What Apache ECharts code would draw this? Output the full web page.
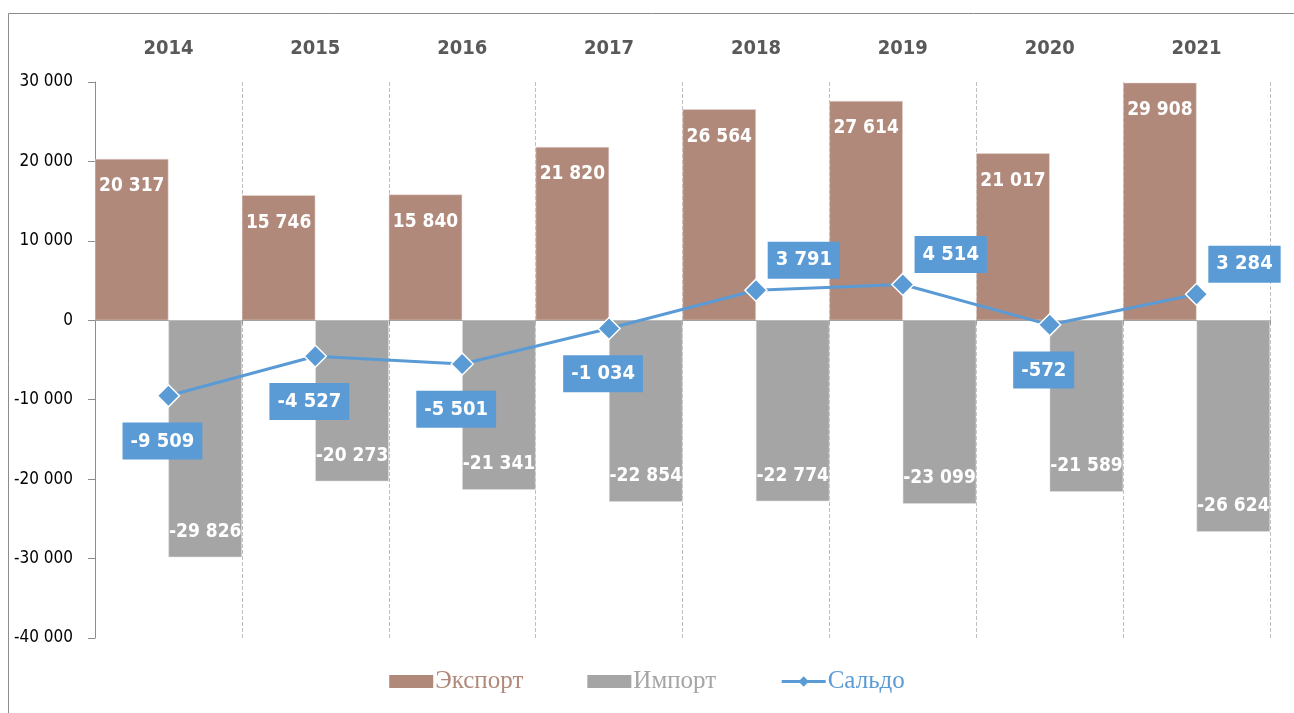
<!DOCTYPE html>
<html>
<head>
<meta charset="utf-8">
<script src="https://cdn.jsdelivr.net/npm/echarts@6/dist/echarts.min.js"></script>
<style>
  html, body { margin: 0; padding: 0; background: #fff; }
  #chart { width: 1294px; height: 713px; }
</style>
</head>
<body>
<div id="chart"></div>
<script>
// data
const years = ['2014', '2015', '2016', '2017', '2018', '2019', '2020', '2021']
const exportVals = [20317, 15746, 15840, 21820, 26564, 27614, 21017, 29908]
const importVals = [-29826, -20273, -21341, -22854, -22774, -23099, -21589, -26624]
const saldoVals = [-9509, -4527, -5501, -1034, 3791, 4514, -572, 3284]

const NARROW = '"Liberation Sans Narrow", "DejaVu Sans Condensed", sans-serif'
const fmt = v => String(v).replace(/\B(?=(\d{3})+(?!\d))/g, ' ')

const chart = echarts.init(document.getElementById('chart'))

chart.setOption({
  backgroundColor: '#FFFFFF',
  animation: false,
  graphic: [{
    type: 'rect',
    shape: { x: 8.5, y: 13.5, width: 1400, height: 800 },
    style: { fill: 'none', stroke: '#8c8c8c', lineWidth: 1 },
    silent: true
  }],
  grid: {
    left: 95,
    right: 24,
    top: 82,
    bottom: 75
  },
  legend: {
    top: 664,
    left: 'center',
    itemWidth: 44,
    itemHeight: 13,
    itemGap: 64,
    itemStyle: { borderWidth: 0 },
    textStyle: { fontFamily: '"Liberation Serif", "Times New Roman", serif', fontSize: 25, padding: [0, 0, 0, -3] },
    data: [
      { name: 'Экспорт', icon: 'rect', textStyle: { color: '#B0897B' } },
      { name: 'Импорт', icon: 'rect', textStyle: { color: '#A5A5A5' } },
      { name: 'Сальдо', textStyle: { color: '#5B9BD5' }, lineStyle: { width: 3 } }
    ]
  },
  xAxis: [
    {
      type: 'category',
      position: 'top',
      data: years,
      axisLine: { show: false, onZero: false },
      axisTick: { show: false },
      axisLabel: {
        margin: 23,
        color: '#595959',
        fontFamily: NARROW,
        fontWeight: 'bold',
        fontSize: 20
      },
      splitLine: {
        show: true,
        lineStyle: { color: '#BFBFBF', type: 'dashed', width: 1 }
      }
    },
    {
      // zero line
      type: 'category',
      position: 'bottom',
      data: years,
      axisLine: { show: true, onZero: true, lineStyle: { color: '#8c8c8c', width: 1 } },
      axisTick: { show: true, length: 4, lineStyle: { color: '#8c8c8c' } },
      axisLabel: { show: false },
      splitLine: { show: false }
    }
  ],
  yAxis: {
    type: 'value',
    min: -40000,
    max: 30000,
    interval: 10000,
    axisLine: { show: true, lineStyle: { color: '#8c8c8c' } },
    axisTick: { show: true, length: 7, lineStyle: { color: '#8c8c8c' } },
    splitLine: { show: false },
    axisLabel: {
      margin: 22,
      color: '#000000',
      fontFamily: NARROW,
      fontSize: 17,
      formatter: fmt
    }
  },
  series: [
    {
      name: 'Экспорт',
      type: 'bar',
      xAxisIndex: 0,
      barGap: '0%',
      barCategoryGap: '0%',
      data: exportVals,
      itemStyle: { color: '#B0897B', borderColor: '#E8DCD8', borderWidth: 0.5 },
      label: {
        show: true,
        position: 'insideTop',
        distance: 18,
        color: '#FFFFFF',
        fontFamily: NARROW,
        fontWeight: 'bold',
        fontSize: 19,
        formatter: p => fmt(p.value)
      }
    },
    {
      name: 'Импорт',
      type: 'bar',
      xAxisIndex: 0,
      barGap: '0%',
      barCategoryGap: '0%',
      data: importVals,
      itemStyle: { color: '#A5A5A5', borderColor: '#E0E0E0', borderWidth: 0.5 },
      label: {
        show: true,
        position: 'insideBottom',
        distance: 16,
        color: '#FFFFFF',
        fontFamily: NARROW,
        fontWeight: 'bold',
        fontSize: 19,
        formatter: p => fmt(p.value)
      }
    },
    {
      name: 'Сальдо',
      type: 'line',
      xAxisIndex: 0,
      z: 5,
      symbol: 'diamond',
      symbolSize: 22,
      lineStyle: { color: '#5B9BD5', width: 3 },
      itemStyle: { color: '#5B9BD5', borderColor: '#FFFFFF', borderWidth: 1.5 },
      data: saldoVals.map(v => ({
        value: v,
        label: v < 0
          ? { position: 'bottom', distance: 15, offset: [-6, 0] }
          : { position: 'right', distance: 0, offset: [0, -30] }
      })),
      label: {
        show: true,
        color: '#FFFFFF',
        backgroundColor: '#5B9BD5',
        padding: [9, 8, 8, 8],
        fontFamily: NARROW,
        fontWeight: 'bold',
        fontSize: 20,
        formatter: p => fmt(p.value)
      }
    }
  ]
})
</script>
</body>
</html>
